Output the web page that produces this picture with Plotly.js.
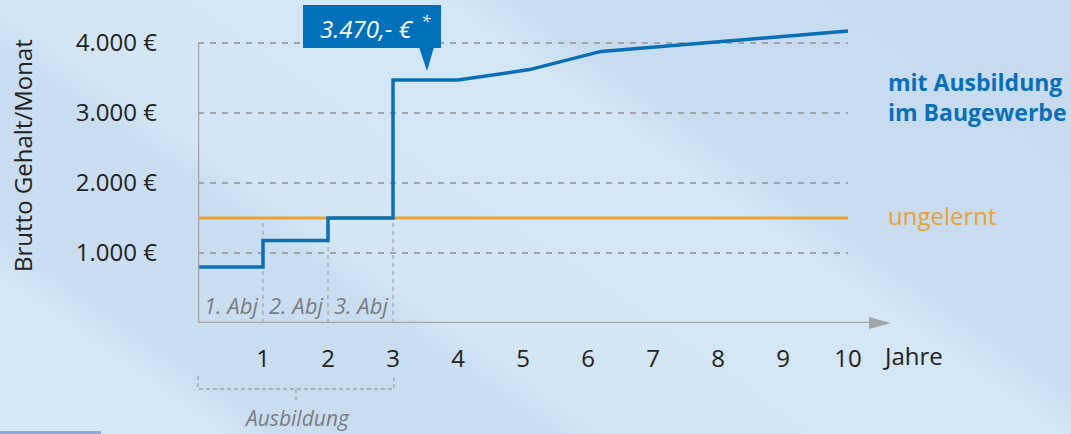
<!DOCTYPE html>
<html>
<head>
<meta charset="utf-8">
<script src="https://cdn.plot.ly/plotly-3.0.1.min.js"></script>
<style>
html,body{margin:0;padding:0;}
body{width:1071px;height:434px;overflow:hidden;
background: linear-gradient(35deg,
  #d4e8f7 0px, #d3e7f6 130px, #c9def1 160px, #c9def1 320px,
  #d2e6f5 350px, #d3e7f6 610px, #c8ddf0 650px, #c7dcf0 970px);}
#chart{width:1071px;height:434px;}
</style>
</head>
<body>
<div id="chart"></div>
<script>
// ---- data ----
const years = [0, 1, 1, 2, 2, 3, 3, 4, 5.1, 6.2, 10];
const salaryTrained = [800, 800, 1180, 1180, 1500, 1500, 3470, 3470, 3620, 3880, 4170];
const yearsUnskilled = [0, 10];
const salaryUnskilled = [1500, 1500];
const xTicks = [1, 2, 3, 4, 5, 6, 7, 8, 9, 10];
const yTicks = [1000, 2000, 3000, 4000];
const yTickText = ["1.000 €", "2.000 €", "3.000 €", "4.000 €"];
const apprenticeYears = ["1. Abj", "2. Abj", "3. Abj"];
const calloutText = "3.470,- €";

// ---- layout helpers ----
const W = 1071, H = 434;
const L = 198, R = 28, T = 0, B = 111;
const pw = W - L - R;
const ph = H - T - B;
function px(x){ return (x - L) / pw; }
function py(y){ return (H - B - y) / ph; }

const grey = '#a3a6aa';
const dashGrey = '#a2a5a9';
const blue = '#0a6fb8';
const orange = '#efa12e';
const font = 'Open Sans, Noto Sans, sans-serif';

const shapes = [];
// dashed grid lines
yTicks.forEach(v => shapes.push({type:'line', xref:'x', yref:'y', x0:0, x1:10, y0:v, y1:v,
  line:{color:dashGrey, width:2, dash:'6px,6px'}, layer:'below'}));
// vertical dashed year separators
[1,2,3].forEach(v => shapes.push({type:'line', xref:'x', yref:'y', x0:v, x1:v, y0:0, y1:1500,
  line:{color:dashGrey, width:1.3, dash:'4px,4px'}, layer:'below'}));
// y axis line
shapes.push({type:'line', xref:'x', yref:'y', x0:0, x1:0, y0:0, y1:4000, line:{color:grey, width:2.5}});
// x axis line with arrow
shapes.push({type:'line', xref:'x', yref:'y', x0:0, x1:10.5, y0:0, y1:0, line:{color:grey, width:2.5}});
shapes.push({type:'path', xref:'paper', yref:'paper',
  path:`M ${px(869)} ${py(317)} L ${px(891)} ${py(323)} L ${px(869)} ${py(329)} Z`,
  fillcolor:grey, line:{width:0}});
// Ausbildung bracket
shapes.push({type:'path', xref:'paper', yref:'paper',
  path:`M ${px(198)} ${py(376)} L ${px(198)} ${py(389)} L ${px(394)} ${py(389)} L ${px(394)} ${py(376)}`,
  line:{color:dashGrey, width:1.3, dash:'4px,3px'}});
shapes.push({type:'line', xref:'paper', yref:'paper', x0:px(296), x1:px(296), y0:py(389), y1:py(401),
  line:{color:dashGrey, width:1.3, dash:'4px,3px'}});
// callout box and pointer
shapes.push({type:'rect', xref:'paper', yref:'paper', x0:px(303), x1:px(441), y0:py(5), y1:py(48),
  fillcolor:'#0070ba', line:{width:0}});
shapes.push({type:'path', xref:'paper', yref:'paper',
  path:`M ${px(419)} ${py(47)} L ${px(427)} ${py(71)} L ${px(434)} ${py(47)} Z`,
  fillcolor:'#0070ba', line:{width:0}});
// small strip bottom-left
shapes.push({type:'rect', xref:'paper', yref:'paper', x0:px(0), x1:px(101), y0:py(434), y1:py(431),
  fillcolor:'#8ea9d6', line:{width:0}});

const common = {showarrow:false, xanchor:'center', yanchor:'middle'};
const annotations = [];
apprenticeYears.forEach((t,i) => annotations.push(Object.assign({}, common, {xref:'x', yref:'paper', x:i+0.5, y:py(305),
  text:'<i>'+t+'</i>', font:{family:font, size:22, color:'#7a7d82'}})));
annotations.push(Object.assign({}, common, {xref:'paper', yref:'paper', x:px(297), y:py(418), text:'<i>Ausbildung</i>',
  font:{family:font, size:21, color:'#7a7d82'}}));
annotations.push(Object.assign({}, common, {xref:'paper', yref:'paper', x:px(367), y:py(28),
  text:'<i>'+calloutText+'</i>',
  font:{family:font, size:24, color:'#ffffff'}}));
annotations.push(Object.assign({}, common, {xref:'paper', yref:'paper', x:px(426), y:py(21),
  text:'<i>*</i>',
  font:{family:font, size:17, color:'#ffffff'}}));
annotations.push(Object.assign({}, common, {xref:'paper', yref:'paper', x:px(22), y:py(156), text:'Brutto Gehalt/Monat', textangle:-90,
  font:{family:font, size:24, color:'#222222'}}));
annotations.push(Object.assign({}, common, {xref:'paper', yref:'paper', x:px(881), y:py(355), xanchor:'left', text:'Jahre',
  font:{family:font, size:24, color:'#222222'}}));
annotations.push(Object.assign({}, common, {xref:'paper', yref:'paper', x:px(886), y:py(97), xanchor:'left', align:'left',
  text:'<b>mit Ausbildung<br>im Baugewerbe</b>',
  font:{family:font, size:23, color:blue}}));
annotations.push(Object.assign({}, common, {xref:'paper', yref:'paper', x:px(886), y:py(215), xanchor:'left', text:'ungelernt',
  font:{family:font, size:24, color:orange}}));

const data = [
  {x:yearsUnskilled, y:salaryUnskilled, type:'scatter', mode:'lines', line:{color:orange, width:3}, hoverinfo:'skip'},
  {x:years, y:salaryTrained, type:'scatter', mode:'lines', line:{color:blue, width:3.5}, hoverinfo:'skip'}
];

const layout = {
  width:W, height:H,
  margin:{l:L, r:R, t:T, b:B, pad:0},
  paper_bgcolor:'rgba(0,0,0,0)', plot_bgcolor:'rgba(0,0,0,0)',
  showlegend:false,
  xaxis:{range:[0, pw/65], showgrid:false, zeroline:false, showline:false,
    tickvals:xTicks, ticks:'', ticklabelstandoff:19,
    tickfont:{family:font, size:24, color:'#222222'}, fixedrange:true},
  yaxis:{range:[0, ph/70*1000], showgrid:false, zeroline:false, showline:false,
    tickvals:yTicks, ticktext:yTickText, ticks:'', ticklabelstandoff:40,
    tickfont:{family:font, size:24, color:'#222222'}, fixedrange:true},
  shapes:shapes, annotations:annotations
};

Plotly.newPlot('chart', data, layout, {staticPlot:true, displayModeBar:false});
</script>
</body>
</html>
